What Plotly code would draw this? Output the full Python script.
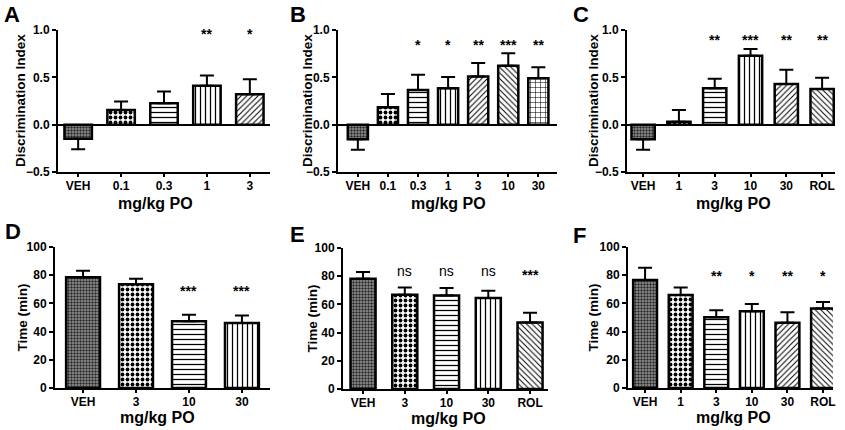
import plotly.graph_objects as go

W, H = 845, 430

# ---------------- data ----------------
A_cats = ["VEH", "0.1", "0.3", "1", "3"]
A_vals = [-0.15, 0.155, 0.225, 0.41, 0.32]
A_err = [0.11, 0.09, 0.125, 0.11, 0.16]
A_sig = ["", "", "", "**", "*"]

B_cats = ["VEH", "0.1", "0.3", "1", "3", "10", "30"]
B_vals = [-0.155, 0.183, 0.366, 0.384, 0.51, 0.623, 0.49]
B_err = [0.11, 0.141, 0.162, 0.12, 0.141, 0.131, 0.116]
B_sig = ["", "", "*", "*", "**", "***", "**"]

C_cats = ["VEH", "1", "3", "10", "30", "ROL"]
C_vals = [-0.155, 0.03, 0.384, 0.729, 0.43, 0.377]
C_err = [0.11, 0.125, 0.102, 0.071, 0.15, 0.119]
C_sig = ["", "", "**", "***", "**", "**"]

D_cats = ["VEH", "3", "10", "30"]
D_vals = [78.5, 73.5, 47.3, 46.1]
D_err = [4.7, 4.0, 4.7, 5.4]
D_sig = ["", "", "***", "***"]

E_cats = ["VEH", "3", "10", "30", "ROL"]
E_vals = [78.2, 66.8, 66.4, 64.5, 47.2]
E_err = [4.7, 5.2, 5.2, 5.2, 6.8]
E_sig = ["", "ns", "ns", "ns", "***"]

F_cats = ["VEH", "1", "3", "10", "30", "ROL"]
F_vals = [76.6, 66.0, 50.1, 54.4, 46.3, 56.3]
F_err = [8.7, 5.2, 5.0, 5.2, 7.4, 4.7]
F_sig = ["", "", "**", "*", "**", "*"]

PAT = {
    "veh":   dict(shape=".", fg="#2a2a2a", bg="#9a9a9a", size=3, sol=0.5),
    "check": dict(shape=".", fg="#000000", bg="#ffffff", size=5, sol=0.45),
    "hline": dict(shape="-", fg="#000000", bg="#ffffff", size=5, sol=0.25),
    "vline": dict(shape="|", fg="#000000", bg="#ffffff", size=5, sol=0.25),
    "fdiag": dict(shape="/", fg="#000000", bg="#ffffff", size=4, sol=0.25),
    "bdiag": dict(shape="\\", fg="#000000", bg="#ffffff", size=4, sol=0.25),
    "grid":  dict(shape="+", fg="#000000", bg="#ffffff", size=5, sol=0.2),
}

panels = [
    dict(letter="A", cats=A_cats, vals=A_vals, err=A_err, sig=A_sig,
         pats=["veh", "check", "hline", "vline", "fdiag"],
         px=(58, 270), py=(30, 172), yr=(-0.5, 1.0), ticks=[-0.5, 0, 0.5, 1.0],
         fmt=".1f", ytitle="Discrimination Index", ytx=20, xtx=155,
         xr=(-0.47, 4.47), bw=0.64, sigy=1.0, top=True, letpos=(2, 15)),
    dict(letter="B", cats=B_cats, vals=B_vals, err=B_err, sig=B_sig,
         pats=["veh", "check", "hline", "vline", "fdiag", "bdiag", "grid"],
         px=(338, 557), py=(30, 172), yr=(-0.5, 1.0), ticks=[-0.5, 0, 0.5, 1.0],
         fmt=".1f", ytitle="Discrimination Index", ytx=307, xtx=448,
         xr=(-0.66, 6.62), bw=0.67, sigy=0.887, top=True, letpos=(288, 15)),
    dict(letter="C", cats=C_cats, vals=C_vals, err=C_err, sig=C_sig,
         pats=["veh", "check", "hline", "vline", "fdiag", "bdiag"],
         px=(627, 835), py=(30, 172), yr=(-0.5, 1.0), ticks=[-0.5, 0, 0.5, 1.0],
         fmt=".1f", ytitle="Discrimination Index", ytx=593, xtx=733,
         xr=(-0.45, 5.36), bw=0.65, sigy=0.937, top=True, letpos=(571, 15)),
    dict(letter="D", cats=D_cats, vals=D_vals, err=D_err, sig=D_sig,
         pats=["veh", "check", "hline", "vline"],
         px=(55, 270), py=(247, 388), yr=(0, 100), ticks=[0, 20, 40, 60, 80, 100],
         fmt="d", ytitle="Time (min)", ytx=22, xtx=157,
         xr=(-0.53, 3.53), bw=0.64, sigy=71.6, top=False, letpos=(3, 231)),
    dict(letter="E", cats=E_cats, vals=E_vals, err=E_err, sig=E_sig,
         pats=["veh", "check", "hline", "vline", "bdiag"],
         px=(343, 548), py=(248, 389), yr=(0, 100), ticks=[0, 20, 40, 60, 80, 100],
         fmt="d", ytitle="Time (min)", ytx=312, xtx=448,
         xr=(-0.48, 4.43), bw=0.6, sigy=83.7, top=False, letpos=(288, 234)),
    dict(letter="F", cats=F_cats, vals=F_vals, err=F_err, sig=F_sig,
         pats=["veh", "check", "hline", "vline", "fdiag", "bdiag"],
         px=(628, 833), py=(247, 388), yr=(0, 100), ticks=[0, 20, 40, 60, 80, 100],
         fmt="d", ytitle="Time (min)", ytx=593, xtx=733,
         xr=(-0.48, 5.28), bw=0.67, sigy=82, top=False, letpos=(571, 235)),
]

FONT = "Liberation Sans, Arial, sans-serif"

fig = go.Figure()
annotations = []
layout_axes = {}

for i, p in enumerate(panels):
    n = i + 1
    xa = "x" if n == 1 else f"x{n}"
    ya = "y" if n == 1 else f"y{n}"
    xkey = "xaxis" if n == 1 else f"xaxis{n}"
    ykey = "yaxis" if n == 1 else f"yaxis{n}"

    plus = [e if v >= 0 else 0 for v, e in zip(p["vals"], p["err"])]
    minus = [0 if v >= 0 else e for v, e in zip(p["vals"], p["err"])]
    pats = [PAT[k] for k in p["pats"]]

    fig.add_trace(go.Bar(
        x=p["cats"], y=p["vals"], xaxis=xa, yaxis=ya, width=p["bw"],
        marker=dict(
            color="white",
            line=dict(color="black", width=2.5),
            pattern=dict(
                shape=[q["shape"] for q in pats],
                fgcolor=[q["fg"] for q in pats],
                bgcolor=[q["bg"] for q in pats],
                size=[q["size"] for q in pats],
                solidity=[q["sol"] for q in pats],
                fillmode="replace",
            ),
        ),
        error_y=dict(type="data", symmetric=False, array=plus, arrayminus=minus,
                     color="black", thickness=2, width=7),
        showlegend=False, hoverinfo="skip",
    ))

    x0, x1 = p["px"]
    y0, y1 = p["py"]
    layout_axes[xkey] = dict(
        domain=[x0 / W, x1 / W], anchor=ya, range=list(p["xr"]),
        type="category", automargin=False,
        showline=True, linecolor="black", linewidth=2 if not p["top"] else 1.5,
        ticks="outside", ticklen=3, tickwidth=2, tickcolor="black",
        ticklabelstandoff=-1,
        tickfont=dict(family=FONT, size=12, color="black", weight="bold"),
        showgrid=False, zeroline=False, fixedrange=True,
    )
    layout_axes[ykey] = dict(
        domain=[1 - y1 / H, 1 - y0 / H], anchor=xa, range=list(p["yr"]),
        tickvals=p["ticks"], tickformat=p["fmt"], automargin=False,
        showline=True, linecolor="black", linewidth=2,
        ticks="outside", ticklen=4, tickwidth=2, tickcolor="black",
        tickfont=dict(family=FONT, size=12, color="black", weight="bold"),
        showgrid=False, zeroline=p["top"], zerolinecolor="black", zerolinewidth=2,
        fixedrange=True,
    )

    annotations.append(dict(
        text=p["ytitle"], xref="paper", yref="paper",
        x=p["ytx"] / W, y=1 - ((y0 + y1) / 2) / H, textangle=-90,
        showarrow=False, xanchor="center", yanchor="middle",
        font=dict(family=FONT, size=13.5, color="black", weight="bold"),
    ))
    annotations.append(dict(
        text="mg/kg PO", xref="paper", yref="paper",
        x=p["xtx"] / W, y=1 - (y1 + (31 if p["top"] else 29)) / H,
        showarrow=False, xanchor="center", yanchor="middle",
        font=dict(family=FONT, size=16, color="black", weight="bold"),
    ))
    annotations.append(dict(
        text=p["letter"], xref="paper", yref="paper",
        x=p["letpos"][0] / W, y=1 - p["letpos"][1] / H,
        showarrow=False, xanchor="left", yanchor="middle",
        font=dict(family=FONT, size=22, color="black", weight="bold"),
    ))
    for k, s in enumerate(p["sig"]):
        if not s:
            continue
        is_ns = s == "ns"
        annotations.append(dict(
            text=s, xref=xa, yref=ya, x=k, y=p["sigy"],
            showarrow=False, xanchor="center",
            yanchor="middle" if is_ns else "top",
            yshift=0 if is_ns else 6,
            font=dict(family=FONT, size=14, color="black",
                      weight="normal" if is_ns else "bold"),
        ))

fig.update_layout(
    width=W, height=H, margin=dict(l=0, r=0, t=0, b=0),
    paper_bgcolor="white", plot_bgcolor="white",
    font=dict(family=FONT, color="black"),
    annotations=annotations,
    **layout_axes,
)

fig.write_html("out.html", config={"displayModeBar": False},
               post_script="document.body.style.margin='0';")
